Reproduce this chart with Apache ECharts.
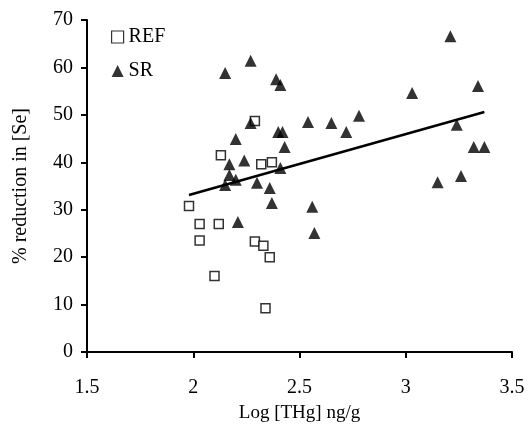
<!DOCTYPE html>
<html>
<head>
<meta charset="utf-8">
<script src="https://cdn.jsdelivr.net/npm/echarts@6/dist/echarts.min.js"></script>
<style>
    html, body { margin: 0; padding: 0; background: #fff; }
    #main { width: 529px; height: 443px; }
</style>
</head>
<body>
<div id="main"></div>
<script>
// REF fish: [log THg, % reduction]
var refData = [
    [1.98, 30.8], [2.03, 27.0], [2.03, 23.5], [2.12, 27.0], [2.10, 16.0],
    [2.13, 41.5], [2.29, 48.7], [2.29, 23.3], [2.33, 22.4], [2.36, 20.0],
    [2.34, 9.2], [2.32, 39.6], [2.37, 40.0]
];
// SR fish
var srData = [
    [2.15, 58.8], [2.27, 61.4], [2.39, 57.5], [2.41, 56.3], [2.27, 48.3],
    [2.20, 44.9], [2.40, 46.4], [2.42, 46.4], [2.43, 43.2], [2.17, 39.6],
    [2.24, 40.4], [2.17, 37.3], [2.20, 36.3], [2.15, 35.2], [2.30, 35.7],
    [2.36, 34.6], [2.37, 31.4], [2.21, 27.4], [2.41, 38.8], [2.54, 48.5],
    [2.65, 48.3], [2.72, 46.4], [2.78, 49.8], [2.56, 30.6], [2.57, 25.1],
    [3.03, 54.6], [3.34, 56.1], [3.24, 47.9], [3.32, 43.2], [3.37, 43.2],
    [3.26, 37.1], [3.15, 35.8], [3.21, 66.6]
];
// fitted line end points
var trendData = [[1.98, 33.1], [3.37, 50.6]];

var font = 'Liberation Serif';

var myChart = echarts.init(document.getElementById('main'));

var option = {
    animation: false,
    grid: { left: 87, right: 17, top: 20, bottom: 91 },
    legend: {
        orient: 'vertical',
        left: 106,
        top: 22,
        itemGap: 14,
        itemWidth: 12,
        itemHeight: 12,
        textStyle: { fontFamily: font, fontSize: 20, color: '#000' },
        data: [
            { name: 'REF', itemStyle: { borderWidth: 1.2 } },
            { name: 'SR' }
        ]
    },
    xAxis: {
        type: 'value',
        min: 1.5,
        max: 3.5,
        interval: 0.5,
        name: 'Log [THg] ng/g',
        nameLocation: 'middle',
        nameGap: 52,
        nameTextStyle: { fontFamily: font, fontSize: 19, color: '#000' },
        axisLine: { show: true, lineStyle: { color: '#000', width: 2 } },
        axisTick: { show: true, length: 6, lineStyle: { color: '#000', width: 2 } },
        axisLabel: { fontFamily: font, fontSize: 20, color: '#000', margin: 26 },
        splitLine: { show: false }
    },
    yAxis: {
        type: 'value',
        min: 0,
        max: 70,
        interval: 10,
        name: '% reduction in [Se]',
        nameLocation: 'middle',
        nameGap: 56,
        nameTextStyle: { fontFamily: font, fontSize: 20, color: '#000' },
        axisLine: { show: true, lineStyle: { color: '#000', width: 2 } },
        axisTick: { show: true, length: 6, lineStyle: { color: '#000', width: 2 } },
        axisLabel: { fontFamily: font, fontSize: 20, color: '#000', margin: 14 },
        splitLine: { show: false }
    },
    series: [
        {
            name: 'REF',
            type: 'scatter',
            symbol: 'rect',
            symbolSize: 9,
            itemStyle: { color: '#fff', borderColor: '#000', borderWidth: 1.5 },
            data: refData
        },
        {
            name: 'SR',
            type: 'scatter',
            symbol: 'triangle',
            symbolSize: 12,
            itemStyle: { color: '#000' },
            data: srData
        },
        {
            name: 'trend',
            type: 'line',
            symbol: 'none',
            lineStyle: { color: '#000', width: 2.5 },
            data: trendData,
            z: 1
        }
    ]
};

myChart.setOption(option);
</script>
</body>
</html>
